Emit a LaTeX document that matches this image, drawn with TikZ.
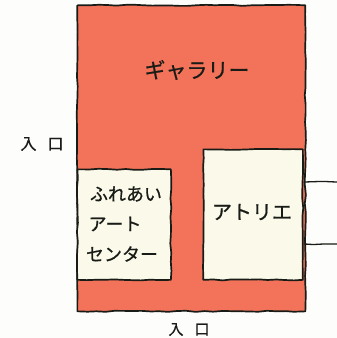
\documentclass[tikz,border=0pt]{standalone}
\usepackage{fontspec}
\newfontfamily\cjk[FakeBold=0.7]{Noto Sans CJK JP}
\usetikzlibrary{decorations.pathmorphing}
\definecolor{paper}{HTML}{FDFDFB}
\definecolor{gallery}{HTML}{F3735A}
\definecolor{cream}{HTML}{FAF9EA}
\definecolor{ink}{HTML}{181B16}
\pgfmathsetseed{42}
\tikzset{
  wob/.style={decorate,decoration={random steps,segment length=9pt,amplitude=0.6pt,pre length=1pt,post length=1pt}},
  room/.style={draw=ink,line width=1.7pt,wob,inner sep=0pt,anchor=north west,line join=round},
  hall/.style={room,fill=gallery},
  studio/.style={room,fill=cream},
  lbl/.style={text=ink,inner sep=0pt,font=\cjk},
  wire/.style={draw=ink,line width=1.3pt,wob}
}
\begin{document}
\begin{tikzpicture}[x=1pt,y=-1pt]
\useasboundingbox[fill=paper] (0,0) rectangle (337,338);
\coordinate (w1) at (337,182);
\coordinate (w2) at (337,244);
\node[hall,minimum width=228pt,minimum height=306pt] (gal) at (76.5,4.5) {};
\node[studio,minimum width=93.5pt,minimum height=110.5pt] (fureai) at (76.5,168.5) {};
\node[studio,minimum width=99.5pt,minimum height=130.5pt] (atelier) at (202.5,148.5) {};
\draw[wire] (atelier.east |- w1) -- (w1);
\draw[wire] (atelier.east |- w2) -- (w2);
\node[lbl,font=\cjk\fontsize{21}{21}\selectfont] (tg) at (197,70) {ギャラリー};
\node[lbl,font=\cjk\fontsize{18}{18}\selectfont] (tf) at (126,194) {ふれあい};
\node[lbl,font=\cjk\fontsize{18}{18}\selectfont] (ta) at (115,224) {アート};
\node[lbl,font=\cjk\fontsize{18}{18}\selectfont] (ts) at (122,254) {センター};
\node[lbl,font=\cjk\fontsize{20}{20}\selectfont] (tt) at (252,212) {アトリエ};
\node[lbl,font=\cjk\fontsize{16}{16}\selectfont] (e1) at (42,144) {入\hspace{11pt}口};
\node[lbl,font=\cjk\fontsize{15}{15}\selectfont] (e2) at (189,329.5) {入\hspace{11pt}口};
\end{tikzpicture}
\end{document}
